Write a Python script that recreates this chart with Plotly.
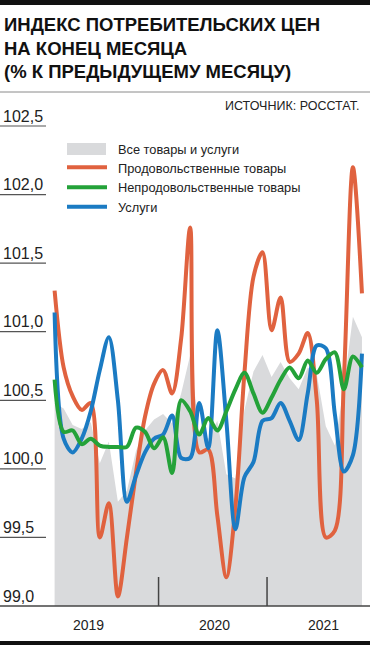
import plotly.graph_objects as go

# ---- data (monthly, Jan 2019 .. Nov 2021), % to previous month as index ----
months = ["2019-01","2019-02","2019-03","2019-04","2019-05","2019-06","2019-07","2019-08","2019-09","2019-10","2019-11","2019-12",
          "2020-01","2020-02","2020-03","2020-04","2020-05","2020-06","2020-07","2020-08","2020-09","2020-10","2020-11","2020-12",
          "2021-01","2021-02","2021-03","2021-04","2021-05","2021-06","2021-07","2021-08","2021-09","2021-10","2021-11"]

all_goods = [100.48, 100.44, 100.32, 100.29, 100.34, 100.04, 100.20, 99.76, 99.84, 100.13, 100.28, 100.36,
             100.40, 100.33, 100.55, 100.83, 100.27, 100.22, 100.35, 99.96, 99.93, 100.43, 100.71, 100.83,
             100.67, 100.78, 100.66, 100.58, 100.74, 100.69, 100.31, 100.17, 100.60, 101.11, 100.96]

food = [101.30, 100.74, 100.53, 100.43, 100.48, 99.50, 99.75, 99.07, 99.50, 99.97, 100.38, 100.62,
        100.72, 100.55, 100.95, 101.76, 100.12, 100.14, 99.66, 99.21, 99.72, 100.70, 101.40, 101.58,
        101.01, 101.25, 100.78, 100.84, 100.99, 100.50, 99.50, 99.55, 100.65, 102.20, 101.28]

nonfood = [100.65, 100.27, 100.28, 100.18, 100.22, 100.17, 100.16, 100.16, 100.16, 100.30, 100.27, 100.15,
           100.23, 99.97, 100.50, 100.42, 100.25, 100.37, 100.28, 100.42, 100.58, 100.70, 100.55, 100.41,
           100.52, 100.65, 100.74, 100.66, 100.79, 100.70, 100.80, 100.85, 100.58, 100.82, 100.74]

services = [101.14, 100.22, 100.12, 100.22, 100.42, 100.72, 100.96, 100.50, 99.76, 99.95, 100.12, 100.22,
            100.25, 100.39, 100.08, 100.08, 100.48, 100.15, 101.01, 100.35, 99.56, 99.94, 100.05, 100.35,
            100.37, 100.48, 100.35, 100.21, 100.55, 100.90, 100.88, 100.40, 99.98, 100.10, 100.84]

series_names = ["Все товары и услуги", "Продовольственные товары", "Непродовольственные товары", "Услуги"]
y_ticks = [99.0, 99.5, 100.0, 100.5, 101.0, 101.5, 102.0, 102.5]
y_tick_labels = ["99,0", "99,5", "100,0", "100,5", "101,0", "101,5", "102,0", "102,5"]
year_labels = ["2019", "2020", "2021"]
title_lines = ["ИНДЕКС ПОТРЕБИТЕЛЬСКИХ ЦЕН", "НА КОНЕЦ МЕСЯЦА", "(% К ПРЕДЫДУЩЕМУ МЕСЯЦУ)"]
source_text = "ИСТОЧНИК: РОССТАТ."

# ---- styling / layout constants ----
W, H = 370, 645
X0_PX, X_STEP = 54.6, 9.04        # pixel of first month, pixels per month
Y_BASE_PX, Y_UNIT = 606.0, 137.14  # pixel of 99.0, pixels per 1.0
FONT = "Liberation Sans, Arial, sans-serif"
C_FOOD, C_NONFOOD, C_SERV, C_ALL = "#e0623f", "#24a239", "#1b7bc3", "#d9dadc"

def xp(px):
    return px / W

def yp(py):
    return 1 - py / H

x = list(range(len(months)))
ymin = y_ticks[0]
x_range = [-X0_PX / X_STEP, (W - X0_PX) / X_STEP]
y_range = [ymin - (H - Y_BASE_PX) / Y_UNIT, ymin + Y_BASE_PX / Y_UNIT]

fig = go.Figure()
fig.add_trace(go.Scatter(x=x, y=[ymin] * len(x), mode="lines", line=dict(width=0),
                         hoverinfo="skip", showlegend=False))
fig.add_trace(go.Scatter(x=x, y=all_goods, mode="lines", fill="tonexty", fillcolor=C_ALL,
                         line=dict(width=0, color=C_ALL), name=series_names[0], showlegend=False))
fig.add_trace(go.Scatter(x=x, y=food, mode="lines", line=dict(color=C_FOOD, width=4, shape="spline", smoothing=0.9),
                         name=series_names[1], showlegend=False))
fig.add_trace(go.Scatter(x=x, y=services, mode="lines", line=dict(color=C_SERV, width=4, shape="spline", smoothing=0.9),
                         name=series_names[3], showlegend=False))
fig.add_trace(go.Scatter(x=x, y=nonfood, mode="lines", line=dict(color=C_NONFOOD, width=4, shape="spline", smoothing=0.9),
                         name=series_names[2], showlegend=False))

shapes = []
annotations = []

# top and bottom black bars, separator under title
shapes.append(dict(type="rect", xref="paper", yref="paper", x0=0, x1=1, y0=yp(5), y1=yp(0),
                   fillcolor="#111", line=dict(width=0)))
shapes.append(dict(type="rect", xref="paper", yref="paper", x0=0, x1=1, y0=yp(H), y1=yp(641),
                   fillcolor="#111", line=dict(width=0)))
shapes.append(dict(type="line", xref="paper", yref="paper", x0=0, x1=1, y0=yp(92), y1=yp(92),
                   line=dict(color="#8a8a8a", width=1)))

# title
for i, t in enumerate(title_lines):
    annotations.append(dict(text="<b>" + t + "</b>", xref="paper", yref="paper", x=xp(2), y=yp([25, 48, 71][i]),
                            xanchor="left", yanchor="middle", showarrow=False,
                            font=dict(family=FONT, size=18.5, color="#111")))
# source
annotations.append(dict(text=source_text, xref="paper", yref="paper", x=xp(361), y=yp(106),
                        xanchor="right", yanchor="middle", showarrow=False,
                        font=dict(family=FONT, size=12.5, color="#222")))

# y tick labels with short underlines
for v, lab in zip(y_ticks, y_tick_labels):
    annotations.append(dict(text=lab, xref="paper", yref="y", x=xp(1), y=v, yshift=10,
                            xanchor="left", yanchor="middle", showarrow=False,
                            font=dict(family=FONT, size=16, color="#222")))
    if v != ymin:
        shapes.append(dict(type="line", xref="paper", yref="y", x0=0, x1=xp(46), y0=v, y1=v,
                           line=dict(color="#555", width=1.2)))

# x axis baseline and year separators
shapes.append(dict(type="line", xref="paper", yref="y", x0=0, x1=1, y0=ymin, y1=ymin,
                   line=dict(color="#444", width=1.5)))
for sep in [11.5, 23.5]:
    shapes.append(dict(type="line", xref="x", yref="y", x0=sep, x1=sep, y0=ymin, y1=ymin + 29 / Y_UNIT,
                       line=dict(color="#444", width=1.5)))
for lab, px in zip(year_labels, [88, 214, 323]):
    annotations.append(dict(text=lab, xref="paper", yref="paper", x=xp(px), y=yp(625),
                            xanchor="center", yanchor="middle", showarrow=False,
                            font=dict(family=FONT, size=14, color="#222")))

# legend (manual)
shapes.append(dict(type="rect", xref="paper", yref="paper", x0=xp(67), x1=xp(106), y0=yp(155), y1=yp(143),
                   fillcolor=C_ALL, line=dict(width=0)))
for col, py in zip([C_FOOD, C_NONFOOD, C_SERV], [167.3, 187.3, 206.7]):
    shapes.append(dict(type="line", xref="paper", yref="paper", x0=xp(67), x1=xp(107), y0=yp(py), y1=yp(py),
                       line=dict(color=col, width=4)))
for name, py in zip([series_names[0], series_names[1], series_names[2], series_names[3]], [149, 168, 188, 207]):
    annotations.append(dict(text=name, xref="paper", yref="paper", x=xp(116), y=yp(py),
                            xanchor="left", yanchor="middle", showarrow=False,
                            font=dict(family=FONT, size=12.8, color="#222")))

fig.update_layout(
    width=W, height=H, margin=dict(l=0, r=0, t=0, b=0),
    paper_bgcolor="white", plot_bgcolor="white",
    xaxis=dict(range=x_range, visible=False, fixedrange=True),
    yaxis=dict(range=y_range, visible=False, fixedrange=True),
    shapes=shapes, annotations=annotations, showlegend=False,
)
fig.write_html("out.html", config={"displayModeBar": False},
               post_script="document.body.style.margin='0';document.body.style.overflow='hidden';")
